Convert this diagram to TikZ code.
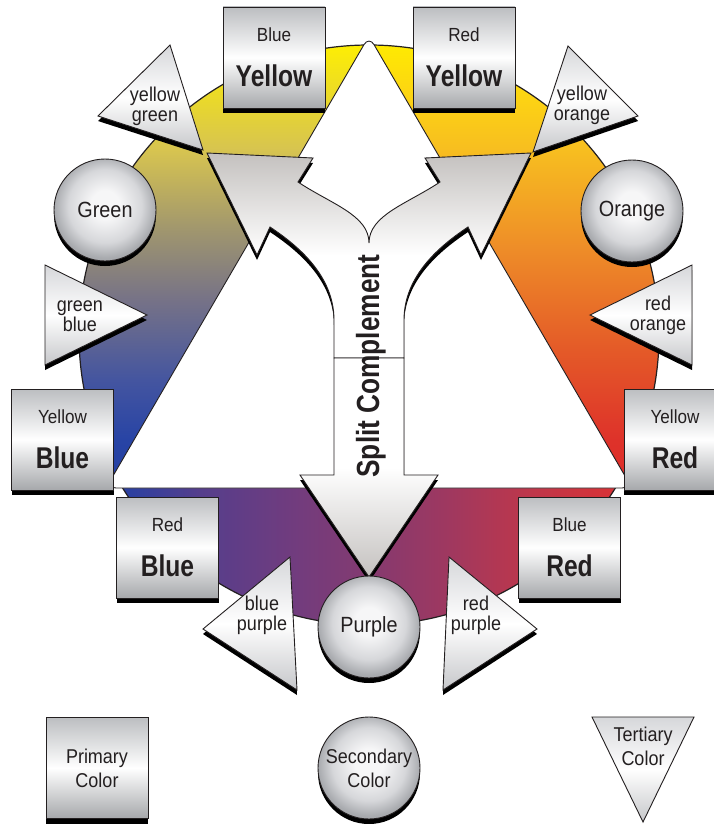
\documentclass[tikz,border=0pt]{standalone}
\usepackage{fontspec}
\setmainfont{Liberation Sans}
\newfontfamily\regf{Liberation Sans}[FakeStretch=0.9]
\newfontfamily\boldf{Liberation Sans}[FakeStretch=0.82]
\usetikzlibrary{shadows}

\definecolor{ink}{RGB}{35,31,32}
\definecolor{boxg}{RGB}{188,190,193}
\definecolor{boxgb}{RGB}{166,168,171}
\definecolor{ballg}{RGB}{168,170,174}
\definecolor{ballm}{RGB}{214,215,218}
\definecolor{ballc}{RGB}{246,246,247}
\definecolor{trig}{RGB}{214,215,218}
\definecolor{trigb}{RGB}{198,199,202}
\definecolor{arrg}{RGB}{196,193,191}

\definecolor{wlA}{RGB}{255,240,0}
\definecolor{wlB}{RGB}{215,196,80}
\definecolor{wlC}{RGB}{160,150,110}
\definecolor{wlD}{RGB}{118,114,135}
\definecolor{wlE}{RGB}{68,85,160}
\definecolor{wlF}{RGB}{40,68,165}
\definecolor{wlG}{RGB}{35,62,162}

\definecolor{wrA}{RGB}{255,236,0}
\definecolor{wrB}{RGB}{252,210,20}
\definecolor{wrC}{RGB}{247,190,32}
\definecolor{wrD}{RGB}{238,140,40}
\definecolor{wrE}{RGB}{228,90,40}
\definecolor{wrF}{RGB}{222,50,42}
\definecolor{wrG}{RGB}{222,45,42}

\definecolor{wbA}{RGB}{35,62,162}
\definecolor{wbB}{RGB}{45,64,160}
\definecolor{wbC}{RGB}{85,62,140}
\definecolor{wbD}{RGB}{115,60,125}
\definecolor{wbE}{RGB}{132,58,112}
\definecolor{wbF}{RGB}{160,56,95}
\definecolor{wbG}{RGB}{190,55,75}
\definecolor{wbH}{RGB}{215,50,55}
\definecolor{wbI}{RGB}{228,45,42}

\pgfdeclareverticalshading{wheelL}{100bp}{color(0bp)=(wlG); color(25bp)=(wlG); color(30.6bp)=(wlF); color(37.2bp)=(wlE); color(46.1bp)=(wlD); color(53.9bp)=(wlC); color(62.8bp)=(wlB); color(75bp)=(wlA); color(100bp)=(wlA)}
\pgfdeclareverticalshading{wheelR}{100bp}{color(0bp)=(wrG); color(25bp)=(wrG); color(30.6bp)=(wrF); color(40.6bp)=(wrE); color(51.7bp)=(wrD); color(62.8bp)=(wrC); color(68.3bp)=(wrB); color(75bp)=(wrA); color(100bp)=(wrA)}
\pgfdeclarehorizontalshading{wheelB}{100bp}{color(0bp)=(wbA); color(25bp)=(wbA); color(30bp)=(wbB); color(35.8bp)=(wbC); color(44.2bp)=(wbD); color(49.9bp)=(wbE); color(56.7bp)=(wbF); color(63.3bp)=(wbG); color(70bp)=(wbH); color(75bp)=(wbI); color(100bp)=(wbI)}
\pgfdeclareradialshading{ballshade}{\pgfpoint{0bp}{3bp}}{color(0bp)=(ballc); color(7bp)=(ballc); color(18bp)=(ballm); color(25bp)=(ballg); color(50bp)=(ballg)}

\tikzset{
  outl/.style={draw=ink, line width=0.9pt},
  shad/.style={drop shadow={shadow xshift=0pt, shadow yshift=-5pt, opacity=1, fill=black}},
  pbox/.style={outl, shad, rectangle, minimum width=102pt, minimum height=101pt, inner sep=0pt,
    top color=boxg, bottom color=boxgb, middle color=white},
  sball/.style={outl, shad, circle, minimum size=102pt, inner sep=0pt,
    shading=ballshade, text=ink, font=\regf\fontsize{22}{22}\selectfont},
  tshape/.style={outl, top color=trig, bottom color=trigb, middle color=white},
  smalltxt/.style={font=\regf\fontsize{19}{19}\selectfont, text=ink, inner sep=0pt, anchor=base},
  bigtxt/.style={font=\boldf\bfseries\fontsize{30}{30}\selectfont, text=ink, inner sep=0pt, anchor=base},
  tritxt/.style={font=\regf\fontsize{20}{20}\selectfont, text=ink, align=center, inner sep=0pt},
  legtxt/.style={font=\regf\fontsize{20}{24}\selectfont, text=ink, align=center},
}

\begin{document}
\begin{tikzpicture}[x=1pt,y=-1pt]
\useasboundingbox (0,0) rectangle (714,824);
\clip (0,0) rectangle (714,824);

% colour wheel
\begin{scope}
  \clip (369,335) circle[radius=290pt];
  \shade[shading=wheelL] (70,40) rectangle (369.5,490);
  \shade[shading=wheelR] (368.5,40) rectangle (670,490);
  \shade[shading=wheelB] (70,486) rectangle (670,630);
\end{scope}
\draw[ink, line width=1.2pt] (369,335) circle[radius=290pt];

% white triangle
\draw[outl, fill=white, rounded corners=10pt] (369,488) -- (106,488) -- (369,36) -- (632,488) -- cycle;

% split complement arrow
\path[outl, shad, top color=arrg, bottom color=white, middle color=white]
  (334,358) -- (334,320)
  .. controls (334,275) and (297,245) .. (270,227)
  -- (257,255) -- (207,153) -- (313,158) -- (298,182)
  .. controls (331,204) and (369,215) .. (369,243)
  .. controls (369,215) and (407,204) .. (440,182)
  -- (425,158) -- (531,153) -- (481,255) -- (468,227)
  .. controls (441,245) and (404,275) .. (404,320)
  -- (404,358) -- cycle;
\path[outl, shad, top color=white, bottom color=arrg, middle color=white]
  (334,358) -- (334,475) -- (300,475) -- (369,577) -- (438,475) -- (404,475) -- (404,358) -- cycle;
\node[rotate=90, anchor=base, inner sep=0pt, text=ink, font=\boldf\bfseries\fontsize{32}{32}\selectfont] (sc) at (379,366) {Split Complement};

% tertiary triangles
\path[tshape, shad] (170,45) -- (98,116) -- (203,150) -- cycle;
\node[tritxt] (tyg) at (155,106) {yellow\\green};
\path[tshape, shad] (568,46) -- (638,116) -- (533,152) -- cycle;
\node[tritxt] (tyo) at (582,105) {yellow\\orange};
\path[tshape, shad] (45,265) -- (147,315) -- (45,365) -- cycle;
\node[tritxt] (tgb) at (80,316) {green\\blue};
\path[tshape, shad] (692,265) -- (590,315) -- (692,365) -- cycle;
\node[tritxt] (tro) at (658,315) {red\\orange};
\path[tshape, shad] (290,557) -- (203,629) -- (297,690) -- cycle;
\node[tritxt] (tbp) at (262,615) {blue\\purple};
\path[tshape, shad] (449,557) -- (537,629) -- (443,690) -- cycle;
\node[tritxt] (trp) at (476,615) {red\\purple};

% primary boxes
\node[pbox] (b1) at (274,57.5) {};
\node[smalltxt] (b1s) at (274,42) {Blue};
\node[bigtxt] (b1b) at (274,87) {Yellow};
\node[pbox] (b2) at (464,57.5) {};
\node[smalltxt] (b2s) at (464,42) {Red};
\node[bigtxt] (b2b) at (464,87) {Yellow};
\node[pbox] (b3) at (62.5,439.5) {};
\node[smalltxt] (b3s) at (62.5,423) {Yellow};
\node[bigtxt] (b3b) at (62.5,468) {Blue};
\node[pbox] (b4) at (675,439.5) {};
\node[smalltxt] (b4s) at (675,423) {Yellow};
\node[bigtxt] (b4b) at (675,468) {Red};
\node[pbox] (b5) at (167.5,547.5) {};
\node[smalltxt] (b5s) at (167.5,531) {Red};
\node[bigtxt] (b5b) at (167.5,576) {Blue};
\node[pbox] (b6) at (569.5,547.5) {};
\node[smalltxt] (b6s) at (569.5,531) {Blue};
\node[bigtxt] (b6b) at (569.5,576) {Red};

% secondary circles
\node[sball] (c1) at (105,210) {Green};
\node[sball] (c2) at (632,211) {Orange};
\node[sball] (c3) at (369,627) {Purple};

% legend
\node[pbox, legtxt] (l1) at (97,768) {Primary\\Color};
\node[sball, legtxt] (l2) at (369,768) {Secondary\\Color};
\path[tshape] (592,717) -- (694,717) -- (643,822) -- cycle;
\node[legtxt, inner sep=0pt] (l3) at (643,746) {Tertiary\\Color};
\end{tikzpicture}
\end{document}
